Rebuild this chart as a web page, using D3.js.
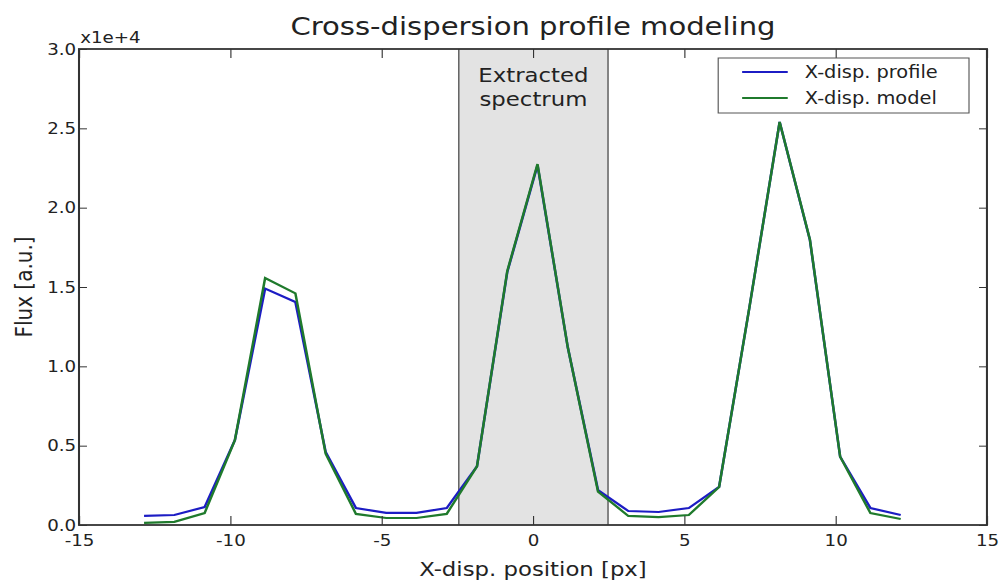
<!DOCTYPE html>
<html lang="en">
<head>
<meta charset="UTF-8">
<title>Cross-dispersion profile modeling</title>
<script src="https://d3js.org/d3.v7.min.js"></script>
<style>
  body { margin: 0; background: #fff; }
  text { font-family: "DejaVu Sans", sans-serif; fill: #222; }
</style>
</head>
<body>
<div id="chart"></div>
<script>
    // data (flux in a.u.)
    const xPos = [-12.85, -11.85, -10.85, -9.85, -8.85, -7.85, -6.85, -5.85, -4.85, -3.85,
                  -2.85, -1.85, -0.85, 0.15, 1.15, 2.15, 3.15, 4.15, 5.15, 6.15,
                  7.15, 8.15, 9.15, 10.15, 11.15, 12.15];
    const profile = [570, 630, 1130, 5350, 14900, 14050, 4600, 1070, 760, 760,
                     1070, 3700, 15940, 22680, 11200, 2200, 880, 820, 1070, 2400,
                     13700, 25400, 17960, 4300, 1070, 630];
    const model = [130, 200, 750, 5350, 15560, 14600, 4500, 700, 440, 440,
                   700, 3700, 16000, 22750, 11200, 2100, 570, 500, 630, 2400,
                   13700, 25400, 18000, 4300, 750, 380];
    const extracted = [-2.45, 2.48];
    const xTicks = [-15, -10, -5, 0, 5, 10, 15];
    const yTicks = [0, 5000, 10000, 15000, 20000, 25000, 30000];
    const seriesNames = ["X-disp. profile", "X-disp. model"];
    const seriesColors = ["#1c1cc4", "#1f7a2c"];

    // picture is stretched horizontally, draw in a narrower box and scale up
    const sx = 1.14;
    const W = 1002 / sx, H = 584;
    const margin = {top: 49, right: 13.2, bottom: 59, left: 69.3};
    const width = W - margin.left - margin.right;
    const height = H - margin.top - margin.bottom;

    const svg = d3.select("#chart").append("svg")
        .attr("width", 1002)
        .attr("height", 584);

    const root = svg.append("g").attr("transform", `scale(${sx},1)`);
    const g = root.append("g").attr("transform", `translate(${margin.left},${margin.top})`);

    const x = d3.scaleLinear().domain([-15, 15]).range([0, width]);
    const y = d3.scaleLinear().domain([0, 30000]).range([height, 0]);

    // shaded extraction window
    g.append("rect")
        .attr("x", x(extracted[0]))
        .attr("y", 0)
        .attr("width", x(extracted[1]) - x(extracted[0]))
        .attr("height", height)
        .attr("fill", "#e3e3e3");
    extracted.forEach(v => {
        g.append("line")
            .attr("x1", x(v)).attr("x2", x(v))
            .attr("y1", 0).attr("y2", height)
            .attr("stroke", "#333")
            .attr("stroke-width", 1);
    });
    ["Extracted", "spectrum"].forEach((t, i) => {
        g.append("text")
            .attr("x", x((extracted[0] + extracted[1]) / 2))
            .attr("y", 33 + i * 24)
            .attr("text-anchor", "middle")
            .attr("font-size", 20)
            .text(t);
    });

    // lines
    const line = d3.line()
        .x((d, i) => x(xPos[i]))
        .y(d => y(d));
    [profile, model].forEach((s, k) => {
        g.append("path")
            .datum(s)
            .attr("fill", "none")
            .attr("stroke", seriesColors[k])
            .attr("stroke-width", 2.2)
            .attr("stroke-linejoin", "miter")
            .attr("d", line);
    });

    // axes, ticks pointing inward on all four sides
    const fmt = d => (d / 1e4).toFixed(1);
    g.append("g")
        .attr("transform", `translate(0,${height})`)
        .call(d3.axisBottom(x).tickValues(xTicks).tickSize(-9).tickPadding(10).tickFormat(d => String(d)))
        .call(a => a.select(".domain").remove());
    g.append("g")
        .call(d3.axisTop(x).tickValues(xTicks).tickSize(-9).tickFormat(""))
        .call(a => a.select(".domain").remove());
    g.append("g")
        .call(d3.axisLeft(y).tickValues(yTicks).tickSize(-7).tickPadding(2.5).tickFormat(fmt))
        .call(a => a.select(".domain").remove());
    g.append("g")
        .attr("transform", `translate(${width},0)`)
        .call(d3.axisRight(y).tickValues(yTicks).tickSize(-7).tickFormat(""))
        .call(a => a.select(".domain").remove());
    g.selectAll(".tick line").attr("stroke", "#333").attr("stroke-width", 1);
    g.selectAll(".tick text")
        .attr("font-family", "DejaVu Sans, sans-serif")
        .attr("font-size", 16)
        .attr("fill", "#222");

    // frame
    g.append("rect")
        .attr("width", width)
        .attr("height", height)
        .attr("fill", "none")
        .attr("stroke", "#333")
        .attr("stroke-width", 1.8);

    // offset text
    g.append("text")
        .attr("x", 1)
        .attr("y", -6)
        .attr("font-size", 16)
        .text("x1e+4");

    // title and labels
    root.append("text")
        .attr("x", margin.left + width / 2)
        .attr("y", 35)
        .attr("text-anchor", "middle")
        .attr("font-size", 25.5)
        .text("Cross-dispersion profile modeling");
    root.append("text")
        .attr("x", margin.left + width / 2)
        .attr("y", 576)
        .attr("text-anchor", "middle")
        .attr("font-size", 20)
        .text("X-disp. position [px]");
    root.append("text")
        .attr("transform", `translate(28,${margin.top + height / 2}) rotate(-90)`)
        .attr("text-anchor", "middle")
        .attr("font-size", 20)
        .text("Flux [a.u.]");

    // legend
    const leg = root.append("g").attr("transform", "translate(630,58)");
    leg.append("rect")
        .attr("width", 220)
        .attr("height", 55)
        .attr("fill", "#fff")
        .attr("stroke", "#555")
        .attr("stroke-width", 1);
    seriesNames.forEach((name, i) => {
        leg.append("line")
            .attr("x1", 21).attr("x2", 61)
            .attr("y1", 14 + i * 26).attr("y2", 14 + i * 26)
            .attr("stroke", seriesColors[i])
            .attr("stroke-width", 2);
        leg.append("text")
            .attr("x", 76)
            .attr("y", 14 + i * 26)
            .attr("dy", "0.35em")
            .attr("font-size", 17)
            .text(name);
    });
</script>
</body>
</html>
